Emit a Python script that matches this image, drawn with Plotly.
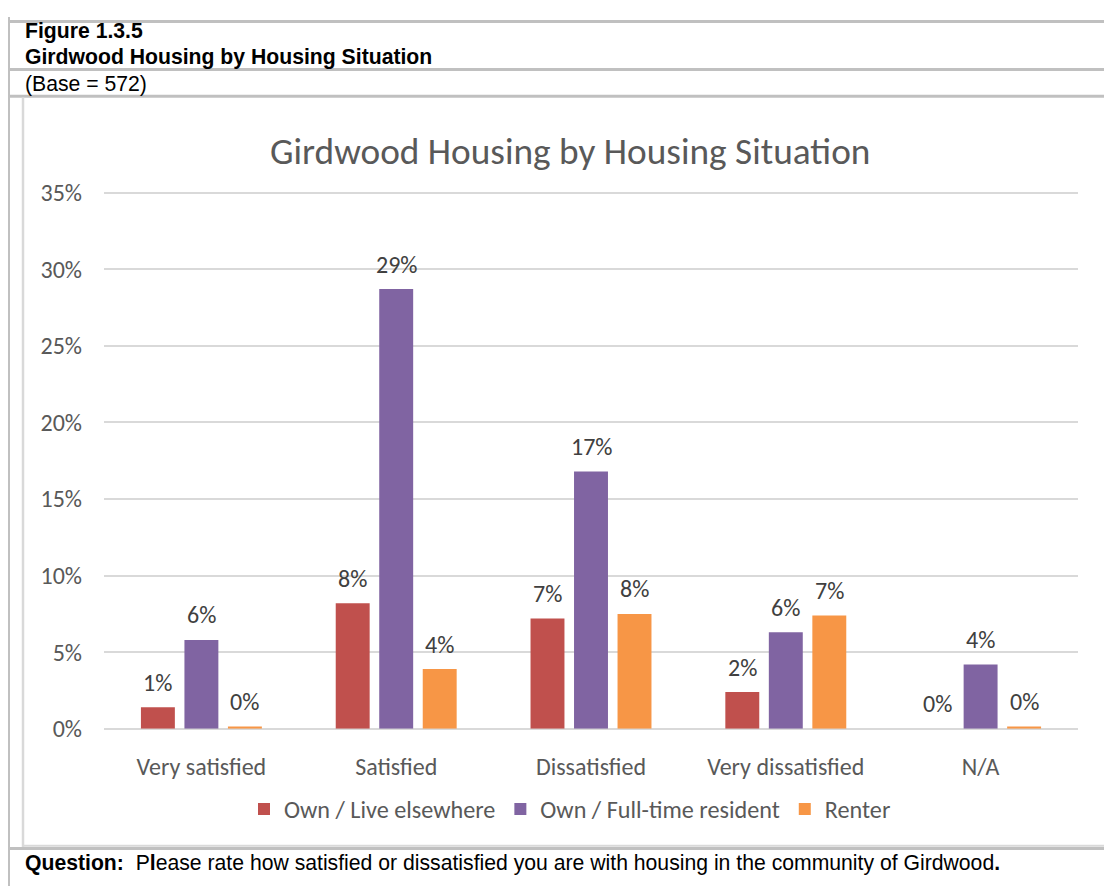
import plotly.graph_objects as go

categories = ["Very satisfied", "Satisfied", "Dissatisfied", "Very dissatisfied", "N/A"]
series_names = ["Own / Live elsewhere", "Own / Full-time resident", "Renter"]
own_elsewhere = [1.4, 8.2, 7.2, 2.4, 0.0]
own_fulltime = [5.8, 28.7, 16.8, 6.3, 4.2]
renter = [0.15, 3.9, 7.5, 7.4, 0.15]
label_elsewhere = ["1%", "8%", "7%", "2%", "0%"]
label_fulltime = ["6%", "29%", "17%", "6%", "4%"]
label_renter = ["0%", "4%", "8%", "7%", "0%"]
y_ticks = [0, 5, 10, 15, 20, 25, 30, 35]
y_tick_labels = ["0%", "5%", "10%", "15%", "20%", "25%", "30%", "35%"]

colors = ["#C0504D", "#8064A2", "#F79646"]
OFF = 8  # page body margin
W, H = 1112, 888
CH_FONT = "Carlito, Calibri, Lato, sans-serif"
HDR_FONT = "Liberation Sans, Arial, sans-serif"


def px(x):
    return (x - OFF) / W


def py(y):
    return 1 - (y - OFF) / H


fig = go.Figure()
all_vals = [own_elsewhere, own_fulltime, renter]
all_labels = [label_elsewhere, label_fulltime, label_renter]
for name, vals, col in zip(series_names, all_vals, colors):
    fig.add_trace(go.Bar(x=categories, y=vals, name=name, marker=dict(color=col, line=dict(width=0))))

annotations = []
slot = 43.5
for i, (vals, labs) in enumerate(zip(all_vals, all_labels)):
    for c, v, t in zip(categories, vals, labs):
        annotations.append(dict(x=c, y=v, xref="x", yref="y", text=t, showarrow=False,
                                xshift=(i - 1) * slot, yshift=25, yanchor="middle",
                                font=dict(family=CH_FONT, size=24, color="#404040")))

# chart title
annotations.append(dict(x=px(570), y=py(142), xref="paper", yref="paper", text="Girdwood Housing by Housing Situation",
                        showarrow=False, xanchor="center", yanchor="middle",
                        font=dict(family=CH_FONT, size=37.3, color="#595959")))
# header texts
hdr = dict(family=HDR_FONT, size=21.2, color="#000000")
annotations.append(dict(x=px(23), y=py(18), xref="paper", yref="paper", text="<b>Figure 1.3.5</b>",
                        showarrow=False, xanchor="left", yanchor="middle", font=hdr))
annotations.append(dict(x=px(23), y=py(45), xref="paper", yref="paper", text="<b>Girdwood Housing by Housing Situation</b>",
                        showarrow=False, xanchor="left", yanchor="middle", font=hdr))
annotations.append(dict(x=px(23), y=py(73), xref="paper", yref="paper", text="(Base = 572)",
                        showarrow=False, xanchor="left", yanchor="middle", font=hdr))
annotations.append(dict(x=px(23), y=py(876), xref="paper", yref="paper",
                        text="<b>Question:</b>  P<b>l</b>ease rate how satisfied or dissatisfied you are with housing in the community of Girdwood<b>.</b>",
                        showarrow=False, xanchor="left", yanchor="middle",
                        font=dict(family=HDR_FONT, size=21.2, color="#000000")))

shapes = []
dark = "#C0C0C0"
light = "#D9D9D9"


def hline(y, x0, x1, color, w):
    shapes.append(dict(type="line", xref="paper", yref="paper", x0=px(x0), x1=px(x1), y0=py(y), y1=py(y),
                       line=dict(color=color, width=w)))


def vline(x, y0, y1, color, w):
    shapes.append(dict(type="line", xref="paper", yref="paper", x0=px(x), x1=px(x), y0=py(y0), y1=py(y1),
                       line=dict(color=color, width=w)))


hline(8.5, 7, 1120, dark, 3)
hline(58, 7, 1120, dark, 3)
hline(85.5, 7, 1120, dark, 3)
hline(861.5, 7, 1120, dark, 3)
vline(8.5, 4, 900, dark, 3)
# inner chart box
vline(23, 87, 860, light, 2.5)
vline(1107.5, 87, 860, light, 2.5)
hline(858.5, 22, 1109, light, 2)

fig.update_layout(
    width=W, height=H,
    margin=dict(l=0, r=0, t=0, b=0),
    paper_bgcolor="white", plot_bgcolor="white",
    barmode="group", bargap=0.33, bargroupgap=0.22,
    showlegend=True,
    legend=dict(orientation="h", x=px(570), xanchor="center", y=py(821), yanchor="middle",
                font=dict(family=CH_FONT, size=24.2, color="#595959"), itemwidth=30,
                traceorder="normal"),
    annotations=annotations,
    shapes=shapes,
    xaxis=dict(domain=[px(104), px(1078)], showline=False, showgrid=False, ticks="",
               tickfont=dict(family=CH_FONT, size=24, color="#595959"), ticklabelstandoff=21),
    yaxis=dict(domain=[py(738), py(183.4)], range=[0, 35.1], tickvals=y_ticks, ticktext=y_tick_labels,
               showgrid=True, gridcolor=light, gridwidth=1.5, zeroline=True, zerolinecolor=light, zerolinewidth=2,
               showline=False, ticks="", tickfont=dict(family=CH_FONT, size=24, color="#595959"),
               ticklabelstandoff=21),
)

fig.write_html("out.html")
